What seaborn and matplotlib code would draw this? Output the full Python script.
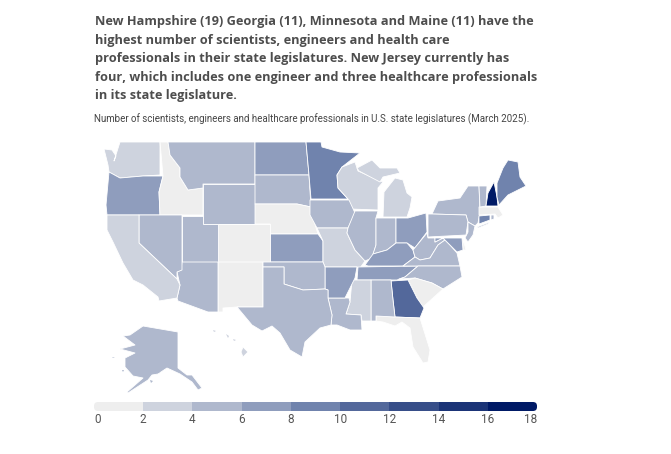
import numpy as np
import seaborn as sns
from matplotlib import pyplot as plt
from matplotlib.collections import PolyCollection
from matplotlib.colors import ListedColormap
from matplotlib.patches import FancyBboxPatch

title_lines = [
    "New Hampshire (19) Georgia (11), Minnesota and Maine (11) have the",
    "highest number of scientists, engineers and health care",
    "professionals in their state legislatures. New Jersey currently has",
    "four, which includes one engineer and three healthcare professionals",
    "in its state legislature.",
]
subtitle = "Number of scientists, engineers and healthcare professionals in U.S. state legislatures (March 2025)."

# counts (middle of each colour class)
states = ["WA", "OR", "ID", "MT", "WY", "ND", "SD", "NE", "KS", "CO", "NM", "UT", "AZ", "NV", "CA",
          "MN", "WI", "MI", "MI2", "IA", "MO", "IL", "IN", "OH", "KY", "TN", "WV", "VA", "NC", "SC",
          "GA", "FL", "AL", "MS", "LA", "AR", "OK", "TX", "AK", "HI", "NY", "NY2", "PA", "NJ", "DE", "MD",
          "CT", "RI", "MA", "VT", "NH", "ME"]
values = [3, 7, 1, 5, 5, 7, 5, 1, 7, 1, 1, 5, 5, 5, 3,
          9, 3, 3, 3, 5, 3, 5, 5, 7, 7, 7, 5, 5, 5, 1,
          11, 1, 5, 3, 5, 7, 5, 5, 5, 3, 5, 5, 5, 4, 1, 7,
          9, 5, 1, 5, 19, 9]
bin_edges = [0, 2, 4, 6, 8, 10, 12, 14, 16, 18]

# hand traced outlines, in pixels of the reference picture
outlines = {
    "WA": [(104, 149), (112, 150), (116, 156), (114, 161), (120, 142), (160, 142), (160, 175), (143, 176), (120, 178), (109, 172), (108, 165)],
    "OR": [(109, 172), (120, 178), (143, 176), (163, 176), (159, 192), (160, 215), (107, 215), (106, 205)],
    "ID": [(160, 142), (168, 142), (170, 155), (180, 168), (180, 177), (188, 190), (203, 188), (203, 215), (160, 215), (159, 192), (163, 176)],
    "MT": [(168, 142), (255, 142), (255, 184), (203, 184), (203, 188), (188, 190), (180, 177), (180, 168), (170, 155)],
    "WY": [(203, 184), (255, 184), (255, 224), (203, 224)],
    "ND": [(255, 142), (306, 142), (309, 175), (255, 175)],
    "SD": [(255, 175), (309, 175), (311, 207), (297, 204), (255, 204)],
    "NE": [(255, 204), (297, 204), (311, 207), (313, 218), (318, 234), (270, 234), (270, 224), (255, 224)],
    "KS": [(270, 234), (318, 234), (323, 241), (323, 262), (270, 262)],
    "CO": [(218, 224), (270, 224), (270, 262), (218, 262)],
    "NM": [(218, 262), (263, 262), (263, 307), (237, 307), (223, 308), (223, 312), (218, 312)],
    "UT": [(182, 216), (203, 216), (203, 224), (218, 224), (218, 262), (182, 262)],
    "AZ": [(182, 262), (218, 262), (218, 312), (208, 312), (178, 301), (177, 298), (180, 285), (177, 272), (181, 270)],
    "NV": [(139, 215), (182, 215), (182, 270), (177, 272), (177, 279), (139, 243)],
    "CA": [(107, 215), (139, 215), (139, 243), (177, 279), (180, 285), (177, 298), (159, 301), (158, 297), (143, 285), (133, 280), (123, 263), (113, 242), (107, 230)],
    "MN": [(306, 142), (321, 142), (322, 147), (340, 152), (360, 153), (342, 167), (337, 175), (338, 188), (348, 199), (311, 199), (309, 175)],
    "WI": [(337, 175), (342, 167), (355, 162), (358, 171), (383, 182), (378, 188), (378, 210), (350, 209), (348, 199), (338, 188)],
    "MI": [(357, 168), (372, 160), (380, 168), (397, 168), (400, 173), (383, 177), (380, 182), (359, 171)],
    "MI2": [(383, 217), (384, 192), (395, 178), (403, 180), (407, 193), (412, 197), (410, 208), (407, 217)],
    "IA": [(310, 200), (349, 200), (355, 213), (348, 228), (317, 228), (310, 215)],
    "MO": [(317, 228), (348, 228), (347, 233), (355, 250), (365, 261), (360, 268), (357, 267), (325, 267), (323, 262), (323, 241)],
    "IL": [(355, 211), (378, 211), (376, 218), (376, 245), (372, 258), (365, 261), (355, 250), (347, 233), (348, 228)],
    "IN": [(376, 218), (396, 218), (396, 243), (387, 250), (373, 254), (376, 245)],
    "OH": [(396, 218), (408, 218), (426, 213), (427, 232), (415, 248), (407, 243), (396, 243)],
    "KY": [(365, 265), (373, 254), (387, 250), (396, 243), (407, 243), (413, 250), (415, 257), (403, 266), (368, 266)],
    "TN": [(358, 267), (418, 266), (405, 277), (397, 280), (357, 280)],
    "WV": [(413, 250), (427, 233), (428, 238), (435, 238), (435, 242), (443, 238), (445, 240), (438, 245), (430, 258), (420, 260), (415, 257)],
    "VA": [(403, 266), (415, 257), (420, 260), (430, 258), (438, 245), (445, 240), (450, 245), (457, 253), (460, 266)],
    "NC": [(399, 279), (405, 277), (418, 266), (460, 266), (462, 277), (443, 289), (432, 283), (415, 278)],
    "SC": [(408, 280), (415, 278), (432, 283), (443, 289), (433, 298), (423, 307), (417, 298)],
    "GA": [(391, 281), (408, 280), (417, 298), (424, 308), (420, 318), (395, 317), (393, 300)],
    "FL": [(376, 316), (395, 317), (420, 318), (430, 350), (428, 362), (423, 363), (413, 347), (410, 328), (402, 322), (395, 326), (383, 322), (376, 321)],
    "AL": [(371, 280), (391, 280), (393, 300), (395, 317), (376, 316), (376, 321), (371, 321)],
    "MS": [(352, 280), (371, 280), (371, 321), (362, 321), (361, 315), (346, 314), (350, 302)],
    "LA": [(328, 298), (349, 298), (350, 302), (346, 314), (361, 315), (362, 330), (350, 330), (337, 325), (331, 325), (332, 315)],
    "AR": [(325, 267), (357, 267), (355, 278), (348, 292), (345, 298), (328, 298), (328, 290), (325, 289)],
    "OK": [(263, 262), (323, 262), (325, 267), (325, 289), (303, 290), (284, 284), (284, 267), (263, 267)],
    "TX": [(263, 267), (284, 267), (284, 284), (303, 290), (325, 289), (328, 290), (328, 298), (332, 315), (331, 325), (320, 328), (305, 342), (302, 357), (290, 350), (280, 333), (272, 326), (262, 331), (252, 325), (237, 307), (263, 307)],
    "AK": [(143, 326), (178, 332), (178, 368), (187, 375), (192, 375), (202, 388), (198, 390), (192, 382), (180, 374), (167, 368), (158, 374), (152, 375), (148, 380), (128, 393), (127, 392), (143, 378), (133, 376), (125, 367), (125, 358), (135, 353), (120, 349), (135, 345), (123, 336), (130, 335)],
    "HI": [(243, 347), (248, 352), (243, 357), (241, 352)],
    "NY": [(432, 214), (438, 201), (460, 198), (468, 186), (479, 186), (480, 212), (478, 223), (475, 226), (468, 222), (466, 215)],
    "NY2": [(477, 227), (490, 222), (488, 224), (478, 228)],
    "PA": [(428, 214), (432, 214), (466, 215), (468, 222), (466, 235), (428, 237)],
    "NJ": [(468, 222), (475, 226), (473, 235), (468, 242), (465, 238), (468, 232)],
    "DE": [(463, 239), (466, 250), (463, 250)],
    "MD": [(435, 238), (462, 238), (463, 250), (457, 252), (450, 245), (443, 238), (435, 242)],
    "CT": [(479, 216), (490, 215), (490, 220), (479, 224)],
    "RI": [(491, 215), (494, 215), (494, 219), (491, 220)],
    "MA": [(479, 207), (498, 207), (503, 215), (498, 218), (495, 214), (479, 215)],
    "VT": [(479, 186), (487, 186), (486, 206), (480, 207)],
    "NH": [(494, 182), (497, 197), (498, 206), (486, 206), (488, 193)],
    "ME": [(497, 183), (503, 168), (508, 160), (518, 162), (520, 177), (526, 186), (508, 195), (499, 205), (497, 197)],
}
hawaii_small = [[(226, 334), (229, 336), (228, 338)], [(233, 339), (236, 340), (234, 341)], [(213, 330), (216, 331), (214, 332)]]
alaska_small = [[(150, 380), (153, 381), (151, 383)], [(156, 372), (161, 367), (159, 373)], [(122, 370), (124, 370), (123, 372)], [(112, 357), (115, 358), (113, 358)]]

sns.set_theme(style="white")
plt.rcParams['font.family'] = ['Roboto', 'DejaVu Sans']

palette = sns.blend_palette(["#eeeeee", "#7083ad", "#001a66"], len(bin_edges) - 1)

fig = plt.figure(figsize=(6.71, 4.54), dpi=100)
ax = fig.add_axes([0, 0, 1, 1])
ax.set_xlim(0, 671)
ax.set_ylim(454, 0)
ax.axis('off')

for i, line in enumerate(title_lines):
    ax.text(95, 21.5 + i * 18.6, line, family='Open Sans', fontweight='bold', fontsize=9.2,
            color='#4d4d4d', va='center', ha='left')
ax.text(94, 119, subtitle, fontsize=7.0, color='#444444', va='center', ha='left')

bins = np.clip(np.digitize(values, bin_edges) - 1, 0, len(palette) - 1)
polys = [outlines[s] for s in states]
colors = [palette[b] for b in bins]
ax.add_collection(PolyCollection(polys, facecolors=colors, edgecolors='white', linewidths=0.6))
ax.add_collection(PolyCollection(hawaii_small, facecolors=palette[1], edgecolors='none'))
ax.add_collection(PolyCollection(alaska_small, facecolors=palette[2], edgecolors='none'))

# legend bar
cax = fig.add_axes([94 / 671, 1 - 411 / 454, 443 / 671, 9 / 454])
legend_cells = np.arange(len(palette)).reshape(1, -1)
sns.heatmap(legend_cells, ax=cax, cmap=ListedColormap(palette), cbar=False,
            xticklabels=False, yticklabels=False)
round_end = FancyBboxPatch((94, 402), 443, 9, boxstyle="round,pad=0,rounding_size=4",
                           transform=ax.transData, facecolor='none', edgecolor='none')
cax.collections[0].set_clip_path(round_end)
cax.set_xticks(np.arange(len(bin_edges)))
cax.set_xticklabels([str(b) for b in bin_edges], rotation=0, fontsize=8.5, color='#555555')
tick_labels = cax.get_xticklabels()
tick_labels[0].set_ha('left')
tick_labels[-1].set_ha('right')
cax.tick_params(axis='x', length=0, pad=1.5)
cax.set_yticks([])

plt.savefig('out.png', dpi=100)
